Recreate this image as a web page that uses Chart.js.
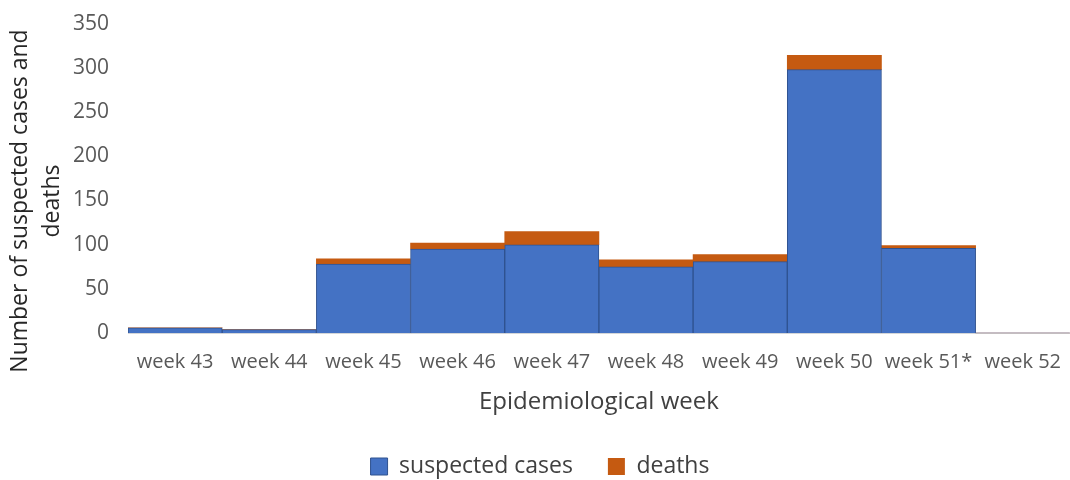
<!DOCTYPE html>
<html>
<head>
<meta charset="utf-8">
<script src="https://cdn.jsdelivr.net/npm/chart.js"></script>
<style>
  body { margin: 0; background: #fff; }
  #wrap { width: 1070px; height: 480px; }
</style>
</head>
<body>
<div id="wrap"><canvas id="myChart" width="1070" height="480"></canvas></div>
<script>
const weeks = ["week 43", "week 44", "week 45", "week 46", "week 47", "week 48", "week 49", "week 50", "week 51*", "week 52"];
const suspectedCases = [6, 4, 78, 95, 100, 75, 81, 298, 96, 0];
const deaths = [0, 0, 6, 7, 15, 8, 8, 16, 3, 0];
const yTicks = [0, 50, 100, 150, 200, 250, 300, 350];
const yTitle = ["Number of suspected cases and", "deaths"];

const fontFamily = "'Open Sans', 'Noto Sans', sans-serif";
const grey = "#595959";

// no outline on empty bars
function edge(width) {
  return function (c) {
    return c.raw ? width : 0;
  };
}

// two-line y title, drawn a bit lower than the axis centre
const yTitlePlugin = {
  id: "yTitle",
  afterDraw(chart) {
    const c = chart.ctx;
    c.save();
    c.fillStyle = "#262626";
    c.font = "23px " + fontFamily;
    c.textAlign = "center";
    c.textBaseline = "middle";
    c.translate(20, 201);
    c.rotate(-Math.PI / 2);
    yTitle.forEach((line, i) => c.fillText(line, 0, i * 32));
    c.restore();
  },
};

window.addEventListener("load", function () {
  const ctx = document.getElementById("myChart");
  new Chart(ctx, {
    type: "bar",
    data: {
      labels: weeks,
      datasets: [
        {
          label: "suspected cases",
          data: suspectedCases,
          backgroundColor: "#4472C4",
          borderColor: "#2F528F",
          borderWidth: edge(1),
          barPercentage: 1,
          categoryPercentage: 1,
        },
        {
          label: "deaths",
          data: deaths,
          backgroundColor: "#C55A11",
          borderWidth: 0,
          barPercentage: 1,
          categoryPercentage: 1,
        },
      ],
    },
    plugins: [yTitlePlugin],
    options: {
      responsive: false,
      animation: false,
      layout: { padding: { left: 0, right: -10, top: -8, bottom: -8 } },
      plugins: {
        legend: {
          position: "bottom",
          labels: {
            boxWidth: 17,
            boxHeight: 17,
            padding: 35,
            color: "#404040",
            font: { family: fontFamily, size: 23 },
          },
        },
        tooltip: { enabled: false },
      },
      scales: {
        x: {
          stacked: true,
          grid: { display: false },
          border: { color: "#D9D9D9", width: 1 },
          ticks: {
            color: grey,
            font: { family: fontFamily, size: 20 },
            padding: 9,
            maxRotation: 0,
            autoSkip: false,
          },
          title: {
            display: true,
            text: "Epidemiological week",
            color: "#404040",
            font: { family: fontFamily, size: 24 },
            padding: { top: 5, bottom: 3 },
          },
        },
        y: {
          stacked: true,
          min: 0,
          max: 350,
          afterBuildTicks: function (axis) {
            axis.ticks = yTicks.map((v) => ({ value: v }));
          },
          afterFit: function (axis) {
            axis.width = 128;
          },
          grid: { display: false },
          border: { display: false },
          ticks: { color: grey, font: { family: fontFamily, size: 21 }, padding: 11 },
        },
      },
    },
  });
});
</script>
</body>
</html>
